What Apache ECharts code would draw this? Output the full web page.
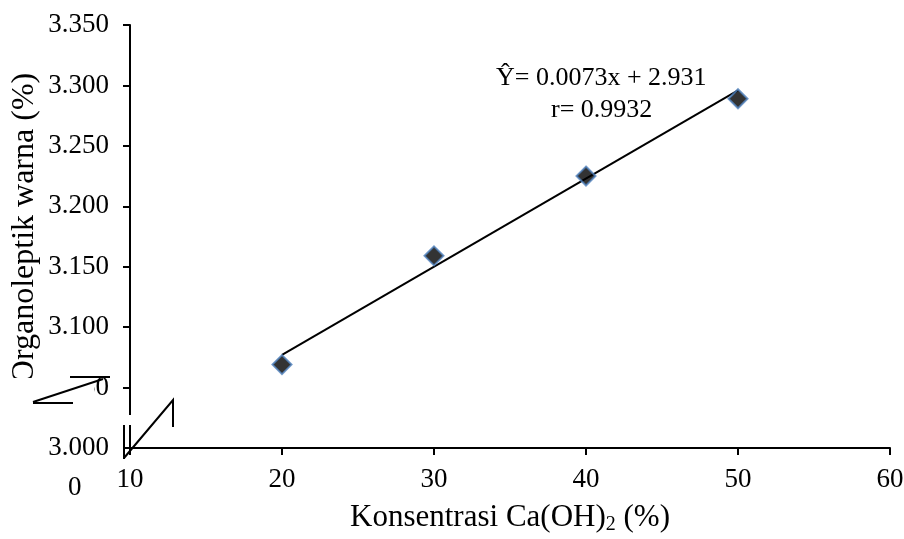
<!DOCTYPE html>
<html>
<head>
<meta charset="utf-8">
<script src="https://cdn.jsdelivr.net/npm/echarts@6/dist/echarts.min.js"></script>
<style>
  html, body { margin: 0; padding: 0; background: #fff; }
  #chart { width: 904px; height: 539px; }
</style>
</head>
<body>
<div id="chart"></div>
<script>
// data
var konsentrasi = [20, 30, 40, 50];
var warna = [3.069, 3.159, 3.225, 3.289];
var trendX = [20, 50];
var trendY = [3.077, 3.296];
var equationText = ['Ŷ= 0.0073x + 2.931', 'r= 0.9932'];
var yTitle = 'Organoleptik warna (%)';

var FONT = 'Liberation Serif';

var chart = echarts.init(document.getElementById('chart'));

chart.setOption({
    backgroundColor: '#fff',
    animation: false,
    grid: {
        left: 130,
        right: 14,
        top: 25,
        bottom: 91,
        outerBoundsMode: 'none'
    },
    xAxis: {
        type: 'value',
        min: 10,
        max: 60,
        interval: 10,
        name: '{a|Konsentrasi Ca(OH)}{s|2}{a| (%)}',
        nameLocation: 'middle',
        nameGap: 52,
        nameTextStyle: {
            rich: {
                a: { fontFamily: FONT, fontSize: 31, color: '#000' },
                s: { fontFamily: FONT, fontSize: 20, color: '#000', padding: [15, 0, 0, 0] }
            }
        },
        axisLine: { onZero: false, lineStyle: { color: '#000', width: 2 } },
        axisTick: { show: true, length: 7, lineStyle: { color: '#000', width: 2 } },
        axisLabel: { fontFamily: FONT, fontSize: 27, color: '#000', margin: 18 },
        splitLine: { show: false }
    },
    yAxis: {
        type: 'value',
        min: 3.0,
        max: 3.35,
        interval: 0.05,
        axisLine: { onZero: false, lineStyle: { color: '#000', width: 2 } },
        axisTick: { show: true, length: 7, lineStyle: { color: '#000', width: 2 } },
        axisLabel: {
            fontFamily: FONT, fontSize: 27, color: '#000', margin: 21,
            formatter: function (v) { return v.toFixed(3); }
        },
        splitLine: { show: false }
    },
    series: [
        {
            name: 'trend',
            type: 'line',
            data: trendX.map(function (x, i) { return [x, trendY[i]]; }),
            showSymbol: false,
            lineStyle: { color: '#000', width: 2 },
            z: 2
        },
        {
            name: 'warna',
            type: 'scatter',
            data: konsentrasi.map(function (x, i) { return [x, warna[i]]; }),
            symbol: 'diamond',
            symbolSize: 19,
            itemStyle: { color: '#000', borderColor: '#4f81bd', borderWidth: 2 },
            z: 3
        }
    ],
    graphic: [
        // y axis title
        {
            type: 'text', x: 25, y: 228, rotation: Math.PI / 2, z: 50,
            style: { text: yTitle, font: '32px "Liberation Serif"', fill: '#000', align: 'center', verticalAlign: 'middle' }
        },
        // equation
        {
            type: 'text', left: 496, top: 65, z: 100,
            style: { text: equationText[0], font: '26px "Liberation Serif"', fill: '#000' }
        },
        {
            type: 'text', left: 551, top: 97, z: 100,
            style: { text: equationText[1], font: '26px "Liberation Serif"', fill: '#000' }
        },
        // break box on the left covering part of the labels
        {
            type: 'rect', z: 100,
            shape: { x: 0, y: 378, width: 42, height: 26 },
            style: { fill: '#fff' }
        },
        {
            type: 'rect', z: 100,
            shape: { x: 40, y: 370, width: 54, height: 34 },
            style: { fill: '#fff' }
        },
        {
            type: 'polyline', z: 101,
            shape: { points: [[70, 377], [110, 377]] },
            style: { stroke: '#000', lineWidth: 2, fill: null }
        },
        {
            type: 'polyline', z: 101,
            shape: { points: [[33, 402], [103, 379]] },
            style: { stroke: '#000', lineWidth: 2, fill: null }
        },
        {
            type: 'polyline', z: 101,
            shape: { points: [[33, 403], [73, 403]] },
            style: { stroke: '#000', lineWidth: 2, fill: null }
        },
        // gap in the y axis
        {
            type: 'rect', z: 100,
            shape: { x: 126, y: 415, width: 8, height: 10 },
            style: { fill: '#fff' }
        },
        {
            type: 'polyline', z: 101,
            shape: { points: [[124, 425], [124, 459]] },
            style: { stroke: '#000', lineWidth: 2, fill: null }
        },
        {
            type: 'polyline', z: 101,
            shape: { points: [[124, 458], [173, 400], [173, 427]] },
            style: { stroke: '#000', lineWidth: 2, fill: null }
        },
        // stray clipped "0"
        {
            type: 'text', left: 68, top: 474, z: 100,
            style: { text: '0', font: '27px "Liberation Serif"', fill: '#000' }
        },
        {
            type: 'rect', z: 101,
            shape: { x: 60, y: 496, width: 30, height: 20 },
            style: { fill: '#fff' }
        }
    ]
});
</script>
</body>
</html>
